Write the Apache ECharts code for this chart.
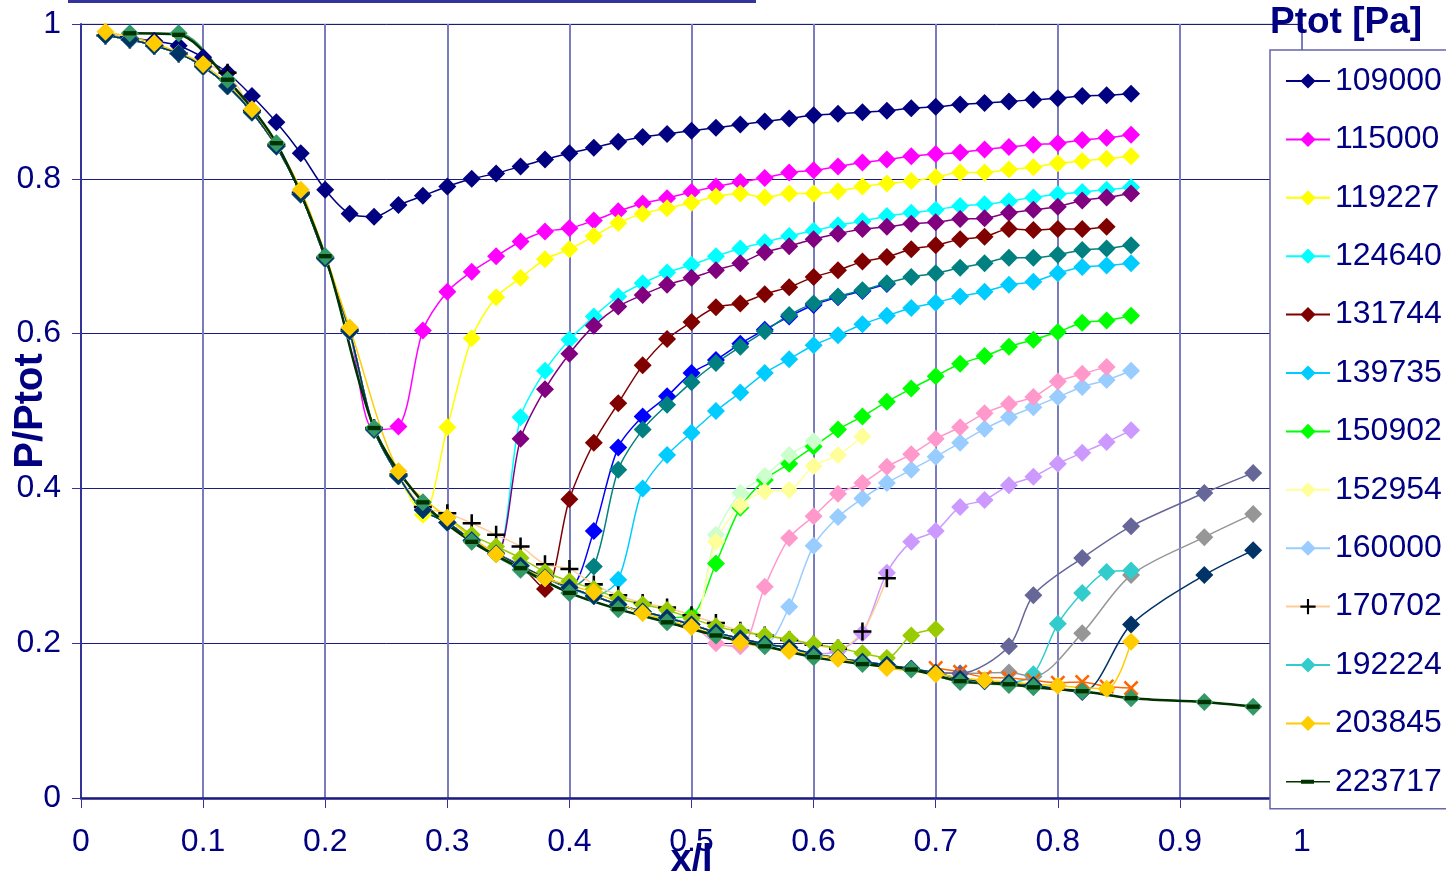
<!DOCTYPE html>
<html>
<head>
<meta charset="utf-8">
<script src="https://cdn.jsdelivr.net/npm/echarts@6/dist/echarts.min.js"></script>
<style>
  html, body { margin: 0; padding: 0; background: #fff; }
  #chart { width: 1446px; height: 871px; }
</style>
</head>
<body>
<div id="chart"></div>
<script>
// x/l positions of the pressure taps
var X = [0.02,0.04,0.06,0.08,0.10,0.12,0.14,0.16,0.18,0.20,0.22,0.24,0.26,0.28,0.30,0.32,0.34,0.36,0.38,0.40,
         0.42,0.44,0.46,0.48,0.50,0.52,0.54,0.56,0.58,0.60,0.62,0.64,0.66,0.68,0.70,0.72,0.74,0.76,0.78,0.80,
         0.82,0.84,0.86,0.92,0.96];

// common lower branch that most runs follow before their jump
var BASE = [0.985,0.980,0.972,0.962,0.945,0.920,0.886,0.842,0.780,0.697,
            0.603,0.476,0.416,0.372,0.356,0.333,0.316,0.300,0.285,0.272,
            0.261,0.250,0.241,0.233,0.224,0.214,0.206,0.199,0.194,0.186,
            0.181,0.176,0.172,0.167,0.162,0.154,0.151,0.149,0.146,0.142,
            0.140,0.136,0.129,0.124,0.118];

// own values of each run, starting at index given next to it
var P109000 = [0.985,0.982,0.978,0.972,0.957,0.937,0.907,0.873,0.833,0.786,
               0.755,0.751,0.766,0.778,0.790,0.800,0.807,0.816,0.825,0.833,
               0.840,0.848,0.854,0.858,0.862,0.866,0.870,0.874,0.878,0.882,
               0.884,0.886,0.888,0.891,0.893,0.896,0.898,0.900,0.902,0.904,
               0.907,0.908,0.910];                                               // from 0
var P115000 = [0.480,0.604,0.654,0.680,0.700,0.719,0.732,0.736,0.746,0.758,
               0.768,0.775,0.783,0.790,0.796,0.801,0.808,0.811,0.816,0.821,
               0.825,0.829,0.832,0.834,0.838,0.841,0.844,0.846,0.850,0.853,0.857]; // from 12
var P119227 = [0.366,0.479,0.594,0.647,0.672,0.696,0.709,0.726,0.743,0.755,
               0.762,0.769,0.777,0.781,0.776,0.781,0.781,0.784,0.790,0.794,
               0.797,0.802,0.808,0.808,0.812,0.815,0.820,0.823,0.826,0.829];       // from 13
var P124640 = [0.492,0.552,0.592,0.622,0.648,0.665,0.679,0.689,0.700,0.710,
               0.718,0.726,0.733,0.740,0.745,0.752,0.756,0.760,0.765,0.767,
               0.771,0.776,0.780,0.783,0.786,0.789];                               // from 17
var PURPLE  = [0.464,0.528,0.574,0.610,0.635,0.650,0.663,0.672,0.682,0.691,
               0.705,0.713,0.722,0.729,0.735,0.738,0.742,0.744,0.748,0.749,
               0.756,0.760,0.764,0.772,0.776,0.781];                               // from 17
var P131744 = [0.270,0.386,0.459,0.510,0.559,0.593,0.615,0.634,0.639,0.651,
               0.660,0.673,0.682,0.693,0.699,0.709,0.714,0.722,0.725,0.735,
               0.734,0.735,0.735,0.738];                                           // from 18
var BLUE    = [0.345,0.453,0.493,0.519,0.549,0.566,0.587,0.605,0.622,0.637,
               0.647,0.655,0.664];                                                 // from 20
var TEAL    = [0.299,0.424,0.476,0.508,0.537,0.562,0.583,0.603,0.624,0.639,
               0.648,0.656,0.665,0.673,0.678,0.685,0.691,0.698,0.698,0.702,
               0.708,0.710,0.714];                                                 // from 20
var P139735 = [0.282,0.400,0.443,0.472,0.500,0.524,0.549,0.567,0.585,0.598,
               0.612,0.623,0.633,0.640,0.648,0.654,0.663,0.667,0.678,0.686,
               0.688,0.691];                                                       // from 21
var P150902 = [0.236,0.303,0.375,0.411,0.432,0.454,0.476,0.493,0.512,0.529,
               0.545,0.561,0.571,0.583,0.592,0.602,0.614,0.617,0.623];             // from 24
var PALEGREEN = [0.340,0.394,0.416,0.443,0.461];                                   // from 25
var P152954 = [0.331,0.378,0.396,0.398,0.429,0.443,0.467];                         // from 25
var P160000 = [0.247,0.326,0.363,0.387,0.407,0.424,0.441,0.459,0.477,0.492,
               0.505,0.518,0.531,0.540,0.552];                                     // from 28
var PINK    = [0.200,0.196,0.273,0.336,0.364,0.393,0.407,0.428,0.444,0.464,
               0.479,0.497,0.509,0.518,0.538,0.548,0.557];                         // from 25
var LAVENDER = [0.190,0.213,0.291,0.331,0.345,0.376,0.385,0.404,0.415,0.432,
                0.446,0.460,0.475];                                                // from 30
var P170702 = [0.985,0.980,0.972,0.962,0.948,0.937,0.888,0.844,0.782,0.698,
               0.605,0.478,0.418,0.376,0.368,0.355,0.340,0.325,0.302,0.296,
               0.276,0.262,0.252,0.246,0.236,0.226,0.216,0.210,0.204,0.198,
               0.193,0.215,0.284];                                                 // from 0
var OLIVE   = [0.362,0.340,0.325,0.310,0.292,0.280,0.270,0.258,0.250,0.243,
               0.232,0.222,0.215,0.210,0.205,0.199,0.194,0.187,0.181,0.210,0.218]; // from 14
var GREY    = [0.161,null,0.162,0.157,null,0.213,null,0.288,0.337,0.367];           // from 35
var SLATE   = [0.161,null,0.196,0.262,null,0.310,null,0.351,0.394,0.420];           // from 35
var P192224 = [0.160,0.225,0.265,0.292,0.294];                                     // from 38
var ORANGE  = [0.168,0.163,0.156,0.155,0.152,0.149,0.150,0.144,0.142];             // from 34, alone
var NAVY2   = [null,0.137,null,0.224,0.288,0.320];                                 // from 39

// runs measured on their own, coarser set of taps
var GOLD_X = [0.02,0.06,0.10,0.14,0.18,0.22,0.26,0.30,0.34,0.38,0.42,0.46,0.50,0.54,0.58,0.62,0.66,0.70,0.74,0.80,0.84,0.86];
var P203845 = [0.990,0.975,0.948,0.890,0.786,0.608,0.422,0.362,0.315,0.284,0.266,0.239,0.221,0.201,0.190,0.180,0.168,0.160,0.152,0.145,0.141,0.202];
var SEA_X = [0.04,0.08,0.12,0.16,0.20,0.24,0.28,0.32,0.36,0.40,0.44,0.48,0.52,0.56,0.60,0.64,0.68,0.72,0.76,0.78,0.82,0.86,0.92,0.96];
var SEAGREEN = [0.988,0.988,0.928,0.846,0.700,0.478,0.382,0.331,0.295,0.265,0.244,0.227,0.210,0.196,0.182,0.173,0.166,0.150,0.146,0.143,0.138,0.129,0.124,0.118];
var P223717 = [0.988,0.986,0.928,0.846,0.700,0.478,0.382,0.331,0.297,0.265,0.244,0.227,0.210,0.196,0.182,0.173,0.166,0.151,0.147,0.143,0.138,0.129,0.124,0.118];

var LEGEND = ['109000','115000','119227','124640','131744','139735','150902',
              '152954','160000','170702','192224','203845','223717'];

function build(start, own, alone) {
  var head = alone ? X.slice(0, start).map(function () { return null; }) : BASE.slice(0, start);
  var ys = head.concat(own);
  return ys.map(function (y, i) { return [X[i], y]; });
}
function pairs(xs, ys) {
  return ys.map(function (y, i) { return [xs[i], y]; });
}

var PLUS = 'path://M4.3,0h1.4v4.3h4.3v1.4h-4.3v4.3h-1.4v-4.3h-4.3v-1.4h4.3z';
var CROSS = 'path://M0,1.2L1.2,0L5,3.8L8.8,0L10,1.2L6.2,5L10,8.8L8.8,10L5,6.2L1.2,10L0,8.8L3.8,5z';
var DASH = 'path://M0,0h12v4h-12z';
var DASH_ICON = 'path://M0,8.8h44v1.6h-44zM15,7.6h13v4h-13z';

function mk(name, color, data, opt) {
  opt = opt || {};
  return {
    name: name, type: 'line', data: data,
    smooth: 0.3, connectNulls: true,
    symbol: opt.symbol || 'diamond', symbolSize: opt.size || 18, symbolKeepAspect: true,
    lineStyle: { color: opt.line || color, width: opt.width || 1.5 },
    itemStyle: { color: opt.mark || color },
    emphasis: { disabled: true }
  };
}

var series = [
  mk('109000', '#000080', build(0, P109000)),
  mk('115000', '#FF00FF', build(12, P115000)),
  mk('119227', '#FFFF00', build(13, P119227)),
  mk('124640', '#00FFFF', build(17, P124640)),
  mk('s5', '#800080', build(17, PURPLE)),
  mk('131744', '#800000', build(18, P131744)),
  mk('s7', '#0000FF', build(20, BLUE)),
  mk('s8', '#008080', build(20, TEAL)),
  mk('139735', '#00CCFF', build(21, P139735)),
  mk('150902', '#00FF00', build(24, P150902)),
  mk('s11', '#CCFFCC', build(25, PALEGREEN)),
  mk('152954', '#FFFF99', build(25, P152954)),
  mk('160000', '#99CCFF', build(28, P160000)),
  mk('s14', '#FF99CC', build(25, PINK)),
  mk('s15', '#CC99FF', build(30, LAVENDER)),
  mk('170702', '#000000', build(0, P170702), { symbol: PLUS, size: 18, line: '#FFCC99' }),
  mk('s17', '#99CC00', build(14, OLIVE)),
  mk('s18', '#969696', build(35, GREY)),
  mk('s19', '#666699', build(35, SLATE)),
  mk('192224', '#33CCCC', build(38, P192224)),
  mk('s21', '#FF6600', build(34, ORANGE, true), { symbol: CROSS, size: 15 }),
  mk('s22', '#003366', build(39, NAVY2)),
  mk('203845', '#FFCC00', pairs(GOLD_X, P203845)),
  mk('s24', '#339966', pairs(SEA_X, SEAGREEN)),
  mk('223717', '#003300', pairs(SEA_X, P223717), { symbol: DASH, size: 13, width: 2.5 })
];

var FONT = 'Liberation Sans';
var NAVY = '#000080';

var legendData = LEGEND.map(function (n) {
  return n === '223717' ? { name: n, icon: DASH_ICON } : { name: n };
});

var chart = echarts.init(document.getElementById('chart'));
chart.setOption({
  animation: false,
  backgroundColor: '#fff',
  textStyle: { fontFamily: FONT },
  title: {
    text: 'Ptot [Pa]', left: 1270, top: 4, padding: 0,
    textStyle: { fontFamily: FONT, fontSize: 37, fontWeight: 'bold', color: NAVY }
  },
  graphic: [
    { type: 'rect', left: 68, top: 0, shape: { width: 688, height: 3 }, style: { fill: '#333399' }, silent: true }
  ],
  legend: {
    data: legendData, orient: 'vertical', left: 1270, top: 50,
    padding: [15, 30, 11, 15],
    itemWidth: 44, itemHeight: 19, itemGap: 26.4,
    backgroundColor: '#fff', borderColor: '#6666aa', borderWidth: 1.5,
    selectedMode: false,
    textStyle: { fontFamily: FONT, fontSize: 32, lineHeight: 32, color: NAVY }
  },
  grid: {
    left: 81, right: 144, top: 24, bottom: 73,
    containLabel: false, outerBoundsMode: 'none',
    show: true, borderColor: '#c0c0c0', borderWidth: 1
  },
  xAxis: {
    type: 'value', min: 0, max: 1, interval: 0.1,
    name: 'x/l', nameLocation: 'middle', nameGap: 44, nameMoveOverlap: false,
    nameTextStyle: { fontFamily: FONT, fontSize: 38, fontWeight: 'bold', color: NAVY },
    axisLine: { lineStyle: { color: '#1a1a80', width: 2.5 } },
    axisTick: { show: true, length: 10, lineStyle: { color: '#333399' } },
    axisLabel: { fontFamily: FONT, fontSize: 32, color: NAVY, margin: 28 },
    splitLine: { show: true, lineStyle: { color: '#7b7bbf', width: 2 } }
  },
  yAxis: {
    type: 'value', min: 0, max: 1, interval: 0.2,
    name: 'P/Ptot', nameLocation: 'middle', nameGap: 30, nameMoveOverlap: false,
    nameTextStyle: { fontFamily: FONT, fontSize: 40, fontWeight: 'bold', color: NAVY },
    axisLine: { show: true, lineStyle: { color: '#333399', width: 2 } },
    axisTick: { show: true, length: 9, lineStyle: { color: '#333399' } },
    axisLabel: { fontFamily: FONT, fontSize: 32, color: NAVY, margin: 20 },
    splitLine: { show: true, lineStyle: { color: '#1a1a80', width: 1 } }
  },
  series: series
});
</script>
</body>
</html>
